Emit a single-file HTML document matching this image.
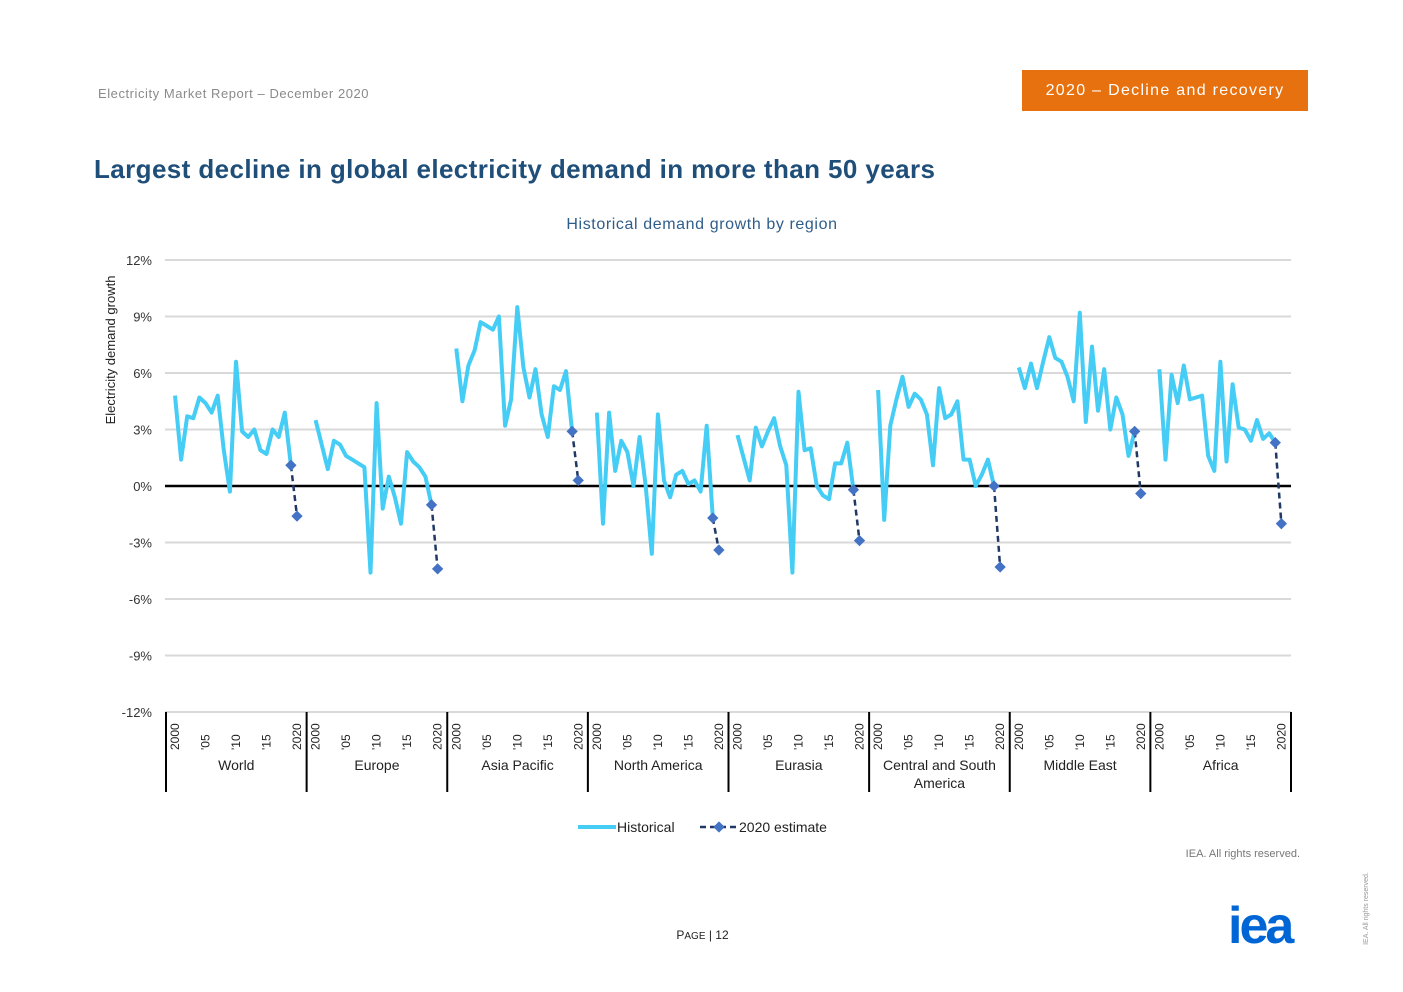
<!DOCTYPE html>
<html><head><meta charset="utf-8">
<style>
body{margin:0;background:#fff;font-family:"Liberation Sans",sans-serif;}
#wrap{position:relative;width:1403px;height:992px;overflow:hidden;}
.abs{position:absolute;}
</style></head><body>
<div id="wrap">
<div class="abs" style="left:98px;top:86px;font-size:13px;color:#8a8a8a;letter-spacing:0.55px;">Electricity Market Report – December 2020</div>
<div class="abs" style="left:1022px;top:70px;width:286px;height:41px;background:#e8710f;color:#fff;font-size:16px;line-height:41px;text-align:center;letter-spacing:1.3px;">2020 – Decline and recovery</div>
<div class="abs" style="left:94px;top:154px;font-size:26px;font-weight:bold;color:#1f4e79;letter-spacing:0.4px;">Largest decline in global electricity demand in more than 50 years</div>
<div class="abs" style="left:1100px;top:848px;width:200px;text-align:right;font-size:11px;color:#777;">IEA. All rights reserved.</div>
<div class="abs" style="left:660px;top:928px;width:85px;text-align:center;font-size:12px;color:#222;">P<span style="font-size:10px">AGE</span> | 12</div>
<div class="abs" style="left:1228px;top:896px;font-size:52px;font-weight:900;color:#0066d6;letter-spacing:-3px;">iea</div>
<div class="abs" style="left:1330px;top:905px;font-size:7px;color:#999;transform:rotate(-90deg);white-space:nowrap;">IEA. All rights reserved.</div>
<svg id="chart" class="abs" style="left:0;top:0" width="1403" height="992"></svg>
</div>
<script>
const regions=["World","Europe","Asia Pacific","North America","Eurasia","Central and South|America","Middle East","Africa"];
const world=[4.8,1.4,3.7,3.6,4.7,4.4,3.9,4.8,1.9,-0.3,6.6,2.9,2.6,3.0,1.9,1.7,3.0,2.6,3.9,1.1];
const europe=[3.5,2.2,0.9,2.4,2.2,1.6,1.4,1.2,1.0,-4.6,4.4,-1.2,0.5,-0.6,-2.0,1.8,1.3,1.0,0.5,-1.0];
const asiaPacific=[7.3,4.5,6.4,7.2,8.7,8.5,8.3,9.0,3.2,4.6,9.5,6.3,4.7,6.2,3.8,2.6,5.3,5.1,6.1,2.9];
const northAmerica=[3.9,-2.0,3.9,0.8,2.4,1.8,0.0,2.6,0.0,-3.6,3.8,0.3,-0.6,0.6,0.8,0.1,0.3,-0.3,3.2,-1.7];
const eurasia=[2.7,1.5,0.3,3.1,2.1,2.9,3.6,2.1,1.1,-4.6,5.0,1.9,2.0,0.0,-0.5,-0.7,1.2,1.2,2.3,-0.2];
const centralSouthAmerica=[5.1,-1.8,3.2,4.6,5.8,4.2,4.9,4.6,3.8,1.1,5.2,3.6,3.8,4.5,1.4,1.4,0.0,0.6,1.4,0.0];
const middleEast=[6.3,5.2,6.5,5.2,6.6,7.9,6.8,6.6,5.8,4.5,9.2,3.4,7.4,4.0,6.2,3.0,4.7,3.8,1.6,2.9];
const africa=[6.2,1.4,5.9,4.4,6.4,4.6,4.7,4.8,1.6,0.8,6.6,1.3,5.4,3.1,3.0,2.4,3.5,2.5,2.8,2.3];
const estimate2020=[-1.6,-4.4,0.3,-3.4,-2.9,-4.3,-0.4,-2.0];
const yTicks=[12,9,6,3,0,-3,-6,-9,-12];
const yearLabels=["2000","'05","'10","'15","2020"];
const series=[world,europe,asiaPacific,northAmerica,eurasia,centralSouthAmerica,middleEast,africa];

const svg=document.getElementById('chart');const NS='http://www.w3.org/2000/svg';
const X0=166,X1=1291,PW=(X1-X0)/8;
const y=v=>486-v*(452/24);
const x=(p,i)=>X0+p*PW+9+6.1*i;
function mk(t,a,parent){const e=document.createElementNS(NS,t);for(const k in a)e.setAttribute(k,a[k]);(parent||svg).appendChild(e);return e;}
function txt(s,a){const e=mk('text',a);e.textContent=s;return e;}

let t=txt('Historical demand growth by region',{x:702,y:229,'text-anchor':'middle','font-size':16,fill:'#2f5d8a','letter-spacing':'0.6'});

t=txt('Electricity demand growth',{x:0,y:0,transform:'translate(115,350) rotate(-90)','text-anchor':'middle','font-size':13,fill:'#222'});

yTicks.forEach(v=>{
  if(v!==0){const g=mk('line',{x1:165,x2:X1,y1:y(v),y2:y(v),stroke:'#d9d9d9','stroke-width':2});
  }
  const l=txt(v+'%',{x:152,y:y(v)+5,'text-anchor':'end','font-size':13,fill:'#333'});
  
});
const z=mk('line',{x1:165,x2:X1,y1:y(0),y2:y(0),stroke:'#000','stroke-width':2.5});


for(let p=0;p<=8;p++){
  const s=mk('line',{x1:X0+p*PW,x2:X0+p*PW,y1:712,y2:792,stroke:'#000','stroke-width':2});
  
}
regions.forEach((r,p)=>{
  const parts=r.split('|');
  parts.forEach((s,k)=>{const l=txt(s,{x:X0+p*PW+PW/2,y:770+k*18,'text-anchor':'middle','font-size':14,fill:'#222'});
  });
  yearLabels.forEach((yl,k)=>{const xx=x(p,k*5);
    const l=txt(yl,{x:0,y:0,transform:`translate(${xx+4},${750}) rotate(-90)`,'font-size':12,fill:'#222'});
    });
  const d=series[p].map((v,i)=>(i?'L':'M')+x(p,i).toFixed(1)+','+y(v).toFixed(1)).join('');
  const path=mk('path',{d:d,fill:'none',stroke:'#45cdf5','stroke-width':4,'stroke-linejoin':'round'});
  
  const last=series[p][19];
  const el=mk('line',{x1:x(p,19),y1:y(last),x2:x(p,20),y2:y(estimate2020[p]),stroke:'#1f3864','stroke-width':2.5,'stroke-dasharray':'6,4'});
  
  [[19,last],[20,estimate2020[p]]].forEach(([i,v])=>{
    const m=mk('rect',{x:x(p,i)-4,y:y(v)-4,width:8,height:8,fill:'#4472c4',transform:`rotate(45 ${x(p,i)} ${y(v)})`});
    
  });
});
let lg=mk('line',{x1:578,x2:616,y1:827,y2:827,stroke:'#45cdf5','stroke-width':4});

t=txt('Historical',{x:617,y:832,'font-size':14,fill:'#222'});

lg=mk('line',{x1:700,x2:738,y1:827,y2:827,stroke:'#1f3864','stroke-width':2.5,'stroke-dasharray':'6,4'});

lg=mk('rect',{x:715,y:823,width:8,height:8,fill:'#4472c4',transform:'rotate(45 719 827)'});

t=txt('2020 estimate',{x:739,y:832,'font-size':14,fill:'#222'});

</script>
</body></html>
